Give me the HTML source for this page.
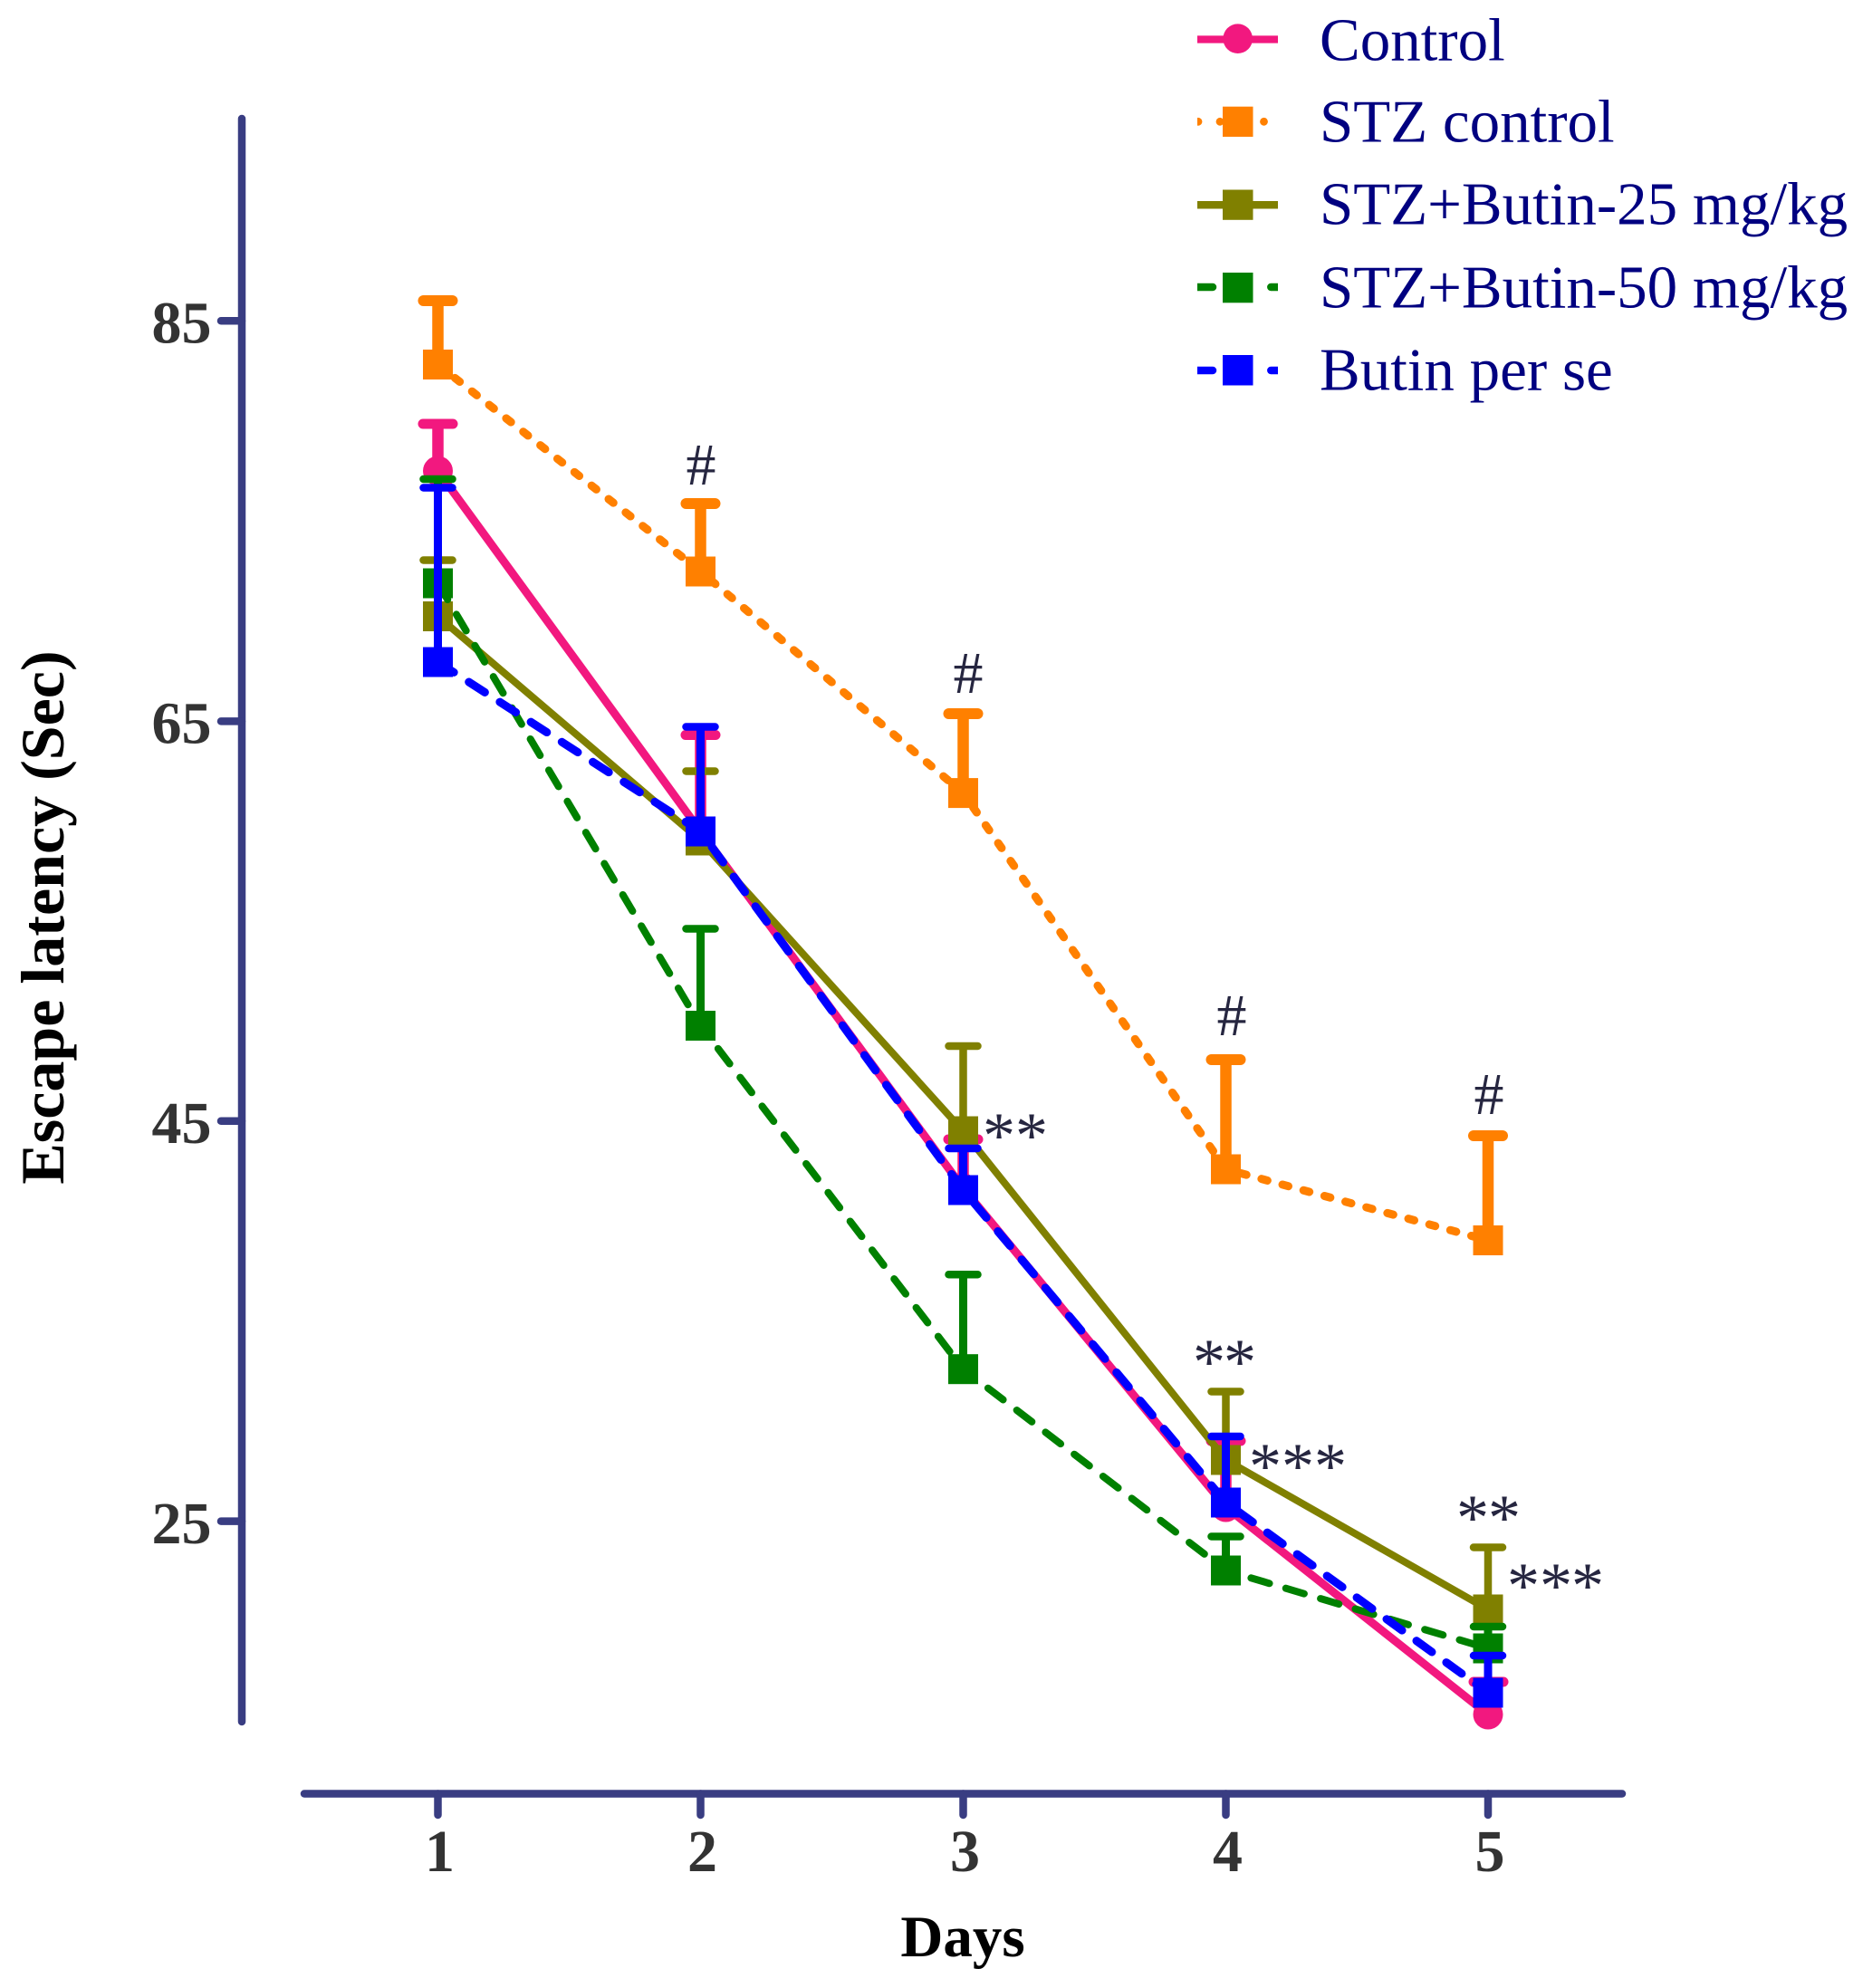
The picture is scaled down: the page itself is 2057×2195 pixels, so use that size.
<!DOCTYPE html>
<html><head><meta charset="utf-8">
<style>html,body{margin:0;padding:0;background:#fff}svg{display:block}</style>
</head>
<body>
<svg width="2057" height="2195" viewBox="0 0 2057 2195" xmlns="http://www.w3.org/2000/svg">
<defs>
<clipPath id="lg"><rect x="1322" y="0" width="89" height="460"/></clipPath>
</defs>
<rect width="2057" height="2195" fill="#fff"/>

<!-- Axes -->
<g stroke="#393d82" stroke-width="8.5" stroke-linecap="round" fill="none">
<line x1="267" y1="131" x2="267" y2="1901"/>
<line x1="244" y1="354.3" x2="267" y2="354.3"/>
<line x1="244" y1="796.4" x2="267" y2="796.4"/>
<line x1="244" y1="1237.8" x2="267" y2="1237.8"/>
<line x1="244" y1="1679.6" x2="267" y2="1679.6"/>
<line x1="336" y1="1980.5" x2="1791" y2="1980.5"/>
<line x1="483.5" y1="1980.5" x2="483.5" y2="2004"/>
<line x1="773.5" y1="1980.5" x2="773.5" y2="2004"/>
<line x1="1063.5" y1="1980.5" x2="1063.5" y2="2004"/>
<line x1="1353.5" y1="1980.5" x2="1353.5" y2="2004"/>
<line x1="1643" y1="1980.5" x2="1643" y2="2004"/>
</g>

<!-- Tick labels -->
<g font-family="'Liberation Serif', 'Times New Roman', serif" font-weight="bold" font-size="66" fill="#333333">
<text x="233.5" y="378.5" text-anchor="end">85</text>
<text x="233.5" y="820.6" text-anchor="end">65</text>
<text x="233.5" y="1262" text-anchor="end">45</text>
<text x="233.5" y="1704" text-anchor="end">25</text>
<text x="485.5" y="2066" text-anchor="middle">1</text>
<text x="775.5" y="2066" text-anchor="middle">2</text>
<text x="1065.5" y="2066" text-anchor="middle">3</text>
<text x="1355.5" y="2066" text-anchor="middle">4</text>
<text x="1645" y="2066" text-anchor="middle">5</text>
</g>

<!-- Axis titles -->
<g font-family="'Liberation Serif', 'Times New Roman', serif" font-weight="bold" fill="#000">
<text x="1063" y="2160" font-size="65" text-anchor="middle">Days</text>
<text transform="translate(70,1013) rotate(-90)" font-size="68" text-anchor="middle">Escape latency (Sec)</text>
</g>

<!-- Control (pink) -->
<g>
<polyline points="483.5,520 773.5,918 1063.5,1312 1353.5,1664 1643,1893" fill="none" stroke="#f2187f" stroke-width="9" stroke-linejoin="round"/>
<g stroke="#f2187f" stroke-width="12.5" fill="none">
<line x1="483.5" y1="520" x2="483.5" y2="468"/>
<line x1="773.5" y1="918" x2="773.5" y2="811.5"/>
<line x1="1063.5" y1="1312" x2="1063.5" y2="1258"/>
<line x1="1353.5" y1="1664" x2="1353.5" y2="1591"/>
<line x1="1643" y1="1893" x2="1643" y2="1857"/>
</g>
<g stroke="#f2187f" stroke-width="11" stroke-linecap="round">
<line x1="467" y1="468" x2="500" y2="468"/>
<line x1="757" y1="811.5" x2="790" y2="811.5"/>
<line x1="1047" y1="1258" x2="1080" y2="1258"/>
<line x1="1337" y1="1591" x2="1370" y2="1591"/>
<line x1="1627" y1="1857" x2="1660" y2="1857"/>
</g>
<g fill="#f2187f">
<circle cx="483.5" cy="520" r="16.5"/>
<circle cx="773.5" cy="918" r="16.5"/>
<circle cx="1063.5" cy="1312" r="16.5"/>
<circle cx="1353.5" cy="1664" r="16.5"/>
<circle cx="1643" cy="1893" r="16.5"/>
</g>
</g>

<!-- STZ control (orange) -->
<g>
<polyline points="483.5,402.5 773.5,631 1063.5,875.6 1353.5,1291 1643,1369.5" fill="none" stroke="#ff8000" stroke-width="9" stroke-linecap="round" stroke-linejoin="round" stroke-dasharray="6.7 17.3"/>
<g stroke="#ff8000" stroke-width="12.5" fill="none">
<line x1="483.5" y1="402.5" x2="483.5" y2="332"/>
<line x1="773.5" y1="631" x2="773.5" y2="556"/>
<line x1="1063.5" y1="875.6" x2="1063.5" y2="788"/>
<line x1="1353.5" y1="1291" x2="1353.5" y2="1170"/>
<line x1="1643" y1="1369.5" x2="1643" y2="1254"/>
</g>
<g stroke="#ff8000" stroke-width="12" stroke-linecap="round">
<line x1="467.5" y1="332" x2="499.5" y2="332"/>
<line x1="757.5" y1="556" x2="789.5" y2="556"/>
<line x1="1047.5" y1="788" x2="1079.5" y2="788"/>
<line x1="1337.5" y1="1170" x2="1369.5" y2="1170"/>
<line x1="1627" y1="1254" x2="1659" y2="1254"/>
</g>
<g fill="#ff8000">
<rect x="467" y="386" width="33" height="33"/>
<rect x="757" y="614.5" width="33" height="33"/>
<rect x="1047" y="859.1" width="33" height="33"/>
<rect x="1337" y="1274.5" width="33" height="33"/>
<rect x="1626.5" y="1353" width="33" height="33"/>
</g>
</g>

<!-- STZ+Butin-25 (olive) -->
<g>
<polyline points="483.5,680.5 773.5,928 1063.5,1249 1353.5,1612 1643,1777" fill="none" stroke="#808000" stroke-width="8" stroke-linejoin="round"/>
<g stroke="#808000" stroke-width="8.5" fill="none">
<line x1="483.5" y1="680.5" x2="483.5" y2="618.5"/>
<line x1="773.5" y1="928" x2="773.5" y2="851.5"/>
<line x1="1063.5" y1="1249" x2="1063.5" y2="1155"/>
<line x1="1353.5" y1="1612" x2="1353.5" y2="1536.5"/>
<line x1="1643" y1="1777" x2="1643" y2="1708.5"/>
</g>
<g stroke="#808000" stroke-width="8.5" stroke-linecap="round">
<line x1="467.5" y1="618.5" x2="499.5" y2="618.5"/>
<line x1="757.5" y1="851.5" x2="789.5" y2="851.5"/>
<line x1="1047.5" y1="1155" x2="1079.5" y2="1155"/>
<line x1="1337.5" y1="1536.5" x2="1369.5" y2="1536.5"/>
<line x1="1627" y1="1708.5" x2="1659" y2="1708.5"/>
</g>
<g fill="#808000">
<rect x="467" y="664" width="33" height="33"/>
<rect x="757" y="911.5" width="33" height="33"/>
<rect x="1047" y="1232.5" width="33" height="33"/>
<rect x="1337" y="1595.5" width="33" height="33"/>
<rect x="1626.5" y="1760.5" width="33" height="33"/>
</g>
</g>

<!-- STZ+Butin-50 (green) -->
<g>
<polyline points="483.5,644 773.5,1132.5 1063.5,1511.7 1353.5,1734 1643,1820" fill="none" stroke="#008000" stroke-width="8" stroke-linecap="round" stroke-linejoin="round" stroke-dasharray="21 19"/>
<g stroke="#008000" stroke-width="9" fill="none">
<line x1="483.5" y1="644" x2="483.5" y2="529"/>
<line x1="773.5" y1="1132.5" x2="773.5" y2="1025.5"/>
<line x1="1063.5" y1="1511.7" x2="1063.5" y2="1407.3"/>
<line x1="1353.5" y1="1734" x2="1353.5" y2="1696.5"/>
<line x1="1643" y1="1820" x2="1643" y2="1796"/>
</g>
<g stroke="#008000" stroke-width="8.5" stroke-linecap="round">
<line x1="467.5" y1="529" x2="499.5" y2="529"/>
<line x1="757.5" y1="1025.5" x2="789.5" y2="1025.5"/>
<line x1="1047.5" y1="1407.3" x2="1079.5" y2="1407.3"/>
<line x1="1337.5" y1="1696.5" x2="1369.5" y2="1696.5"/>
<line x1="1627" y1="1796" x2="1659" y2="1796"/>
</g>
<g fill="#008000">
<rect x="467" y="627.5" width="33" height="33"/>
<rect x="757" y="1116" width="33" height="33"/>
<rect x="1047" y="1495.2" width="33" height="33"/>
<rect x="1337" y="1717.5" width="33" height="33"/>
<rect x="1626.5" y="1803.5" width="33" height="33"/>
</g>
</g>

<!-- Butin per se (blue) -->
<g>
<polyline points="483.5,731 773.5,918 1063.5,1314 1353.5,1659 1643,1869" fill="none" stroke="#0000ff" stroke-width="9" stroke-linecap="round" stroke-linejoin="round" stroke-dasharray="21 19.7"/>
<g stroke="#0000ff" stroke-width="9" fill="none">
<line x1="483.5" y1="731" x2="483.5" y2="538.5"/>
<line x1="773.5" y1="918" x2="773.5" y2="802.5"/>
<line x1="1063.5" y1="1314" x2="1063.5" y2="1268"/>
<line x1="1353.5" y1="1659" x2="1353.5" y2="1586"/>
<line x1="1643" y1="1869" x2="1643" y2="1828"/>
</g>
<g stroke="#0000ff" stroke-width="8.5" stroke-linecap="round">
<line x1="467.5" y1="538.5" x2="499.5" y2="538.5"/>
<line x1="757.5" y1="802.5" x2="789.5" y2="802.5"/>
<line x1="1047.5" y1="1268" x2="1079.5" y2="1268"/>
<line x1="1337.5" y1="1586" x2="1369.5" y2="1586"/>
<line x1="1627" y1="1828" x2="1659" y2="1828"/>
</g>
<g fill="#0000ff">
<rect x="467" y="714.5" width="33" height="33"/>
<rect x="757" y="901.5" width="33" height="33"/>
<rect x="1047" y="1297.5" width="33" height="33"/>
<rect x="1337" y="1642.5" width="33" height="33"/>
<rect x="1626.5" y="1852.5" width="33" height="33"/>
</g>
</g>

<!-- Annotations -->
<g font-family="'Liberation Serif', 'Times New Roman', serif" font-size="66" fill="#262640" text-anchor="middle">
<text x="774" y="535">#</text>
<text x="1069" y="765">#</text>
<text x="1360" y="1143">#</text>
<text x="1644" y="1230">#</text>
</g>
<g font-family="'Liberation Serif', 'Times New Roman', serif" font-size="72" fill="#262640" text-anchor="middle">
<text x="1103" y="1278">*</text><text x="1139" y="1278">*</text>
<text x="1335" y="1528">*</text><text x="1369" y="1528">*</text>
<text x="1397" y="1643">*</text><text x="1433" y="1643">*</text><text x="1469" y="1643">*</text>
<text x="1626" y="1700">*</text><text x="1661" y="1700">*</text>
<text x="1682" y="1775">*</text><text x="1718" y="1775">*</text><text x="1753" y="1775">*</text>
</g>

<!-- Legend symbols -->
<g clip-path="url(#lg)">
<line x1="1322" y1="43.5" x2="1411" y2="43.5" stroke="#f2187f" stroke-width="8.3"/>
<circle cx="1366.7" cy="42.7" r="16.3" fill="#f2187f"/>

<g fill="#ff8000">
<circle cx="1323" cy="134.3" r="4.4"/>
<circle cx="1347" cy="134.3" r="4.4"/>
<circle cx="1395.5" cy="134.3" r="4.4"/>
<rect x="1350" y="117.7" width="33.5" height="33.3"/>
</g>

<line x1="1322" y1="226.3" x2="1411" y2="226.3" stroke="#808000" stroke-width="8.5"/>
<rect x="1350" y="209.5" width="33.5" height="33.3" fill="#808000"/>

<line x1="1318" y1="317" x2="1339" y2="317" stroke="#008000" stroke-width="8.5" stroke-linecap="round"/>
<line x1="1403.3" y1="317" x2="1420" y2="317" stroke="#008000" stroke-width="8.5" stroke-linecap="round"/>
<rect x="1350" y="301" width="33.5" height="33.3" fill="#008000"/>

<line x1="1318" y1="409" x2="1339" y2="409" stroke="#0000ff" stroke-width="8.5" stroke-linecap="round"/>
<line x1="1403.3" y1="409" x2="1420" y2="409" stroke="#0000ff" stroke-width="8.5" stroke-linecap="round"/>
<rect x="1350" y="392" width="33.5" height="33.5" fill="#0000ff"/>
</g>

<!-- Legend text -->
<g font-family="'Liberation Serif', 'Times New Roman', serif" font-size="67" fill="#000080">
<text x="1457" y="66.7">Control</text>
<text x="1457" y="156.7">STZ control</text>
<text x="1457" y="247.3">STZ+Butin-25 mg/kg</text>
<text x="1457" y="339.3">STZ+Butin-50 mg/kg</text>
<text x="1457" y="430.7">Butin per se</text>
</g>
</svg>
</body>
</html>
